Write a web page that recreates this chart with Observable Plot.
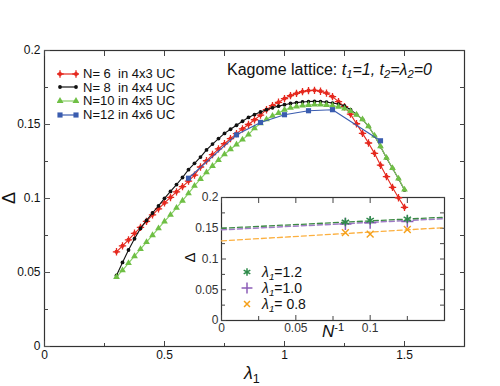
<!DOCTYPE html>
<html><head><meta charset="utf-8">
<script src="https://cdn.jsdelivr.net/npm/d3@7"></script>
<script src="https://cdn.jsdelivr.net/npm/@observablehq/plot@0.6"></script>
<style>
body{margin:0;background:#fff;font-family:"Liberation Sans",Arial,sans-serif;}
#wrap{position:relative;width:500px;height:386px;overflow:hidden;}
#wrap > svg{position:absolute;}
.lbl{position:absolute;white-space:pre;color:#111;line-height:1;}
.sub{font-size:70%;position:relative;top:0.3em;}
.sup{font-size:65%;position:relative;top:-0.55em;}
.leg{position:absolute;white-space:pre;font-size:13px;color:#111;display:flex;align-items:center;}
.leg svg{margin-right:4px;}
</style></head><body><div id="wrap"></div>
<script>
// ---------- data ----------
const lam = [0.3,0.325,0.35,0.375,0.4,0.425,0.45,0.475,0.5,0.525,0.55,0.575,0.6,0.625,0.65,0.675,0.7,0.725,0.75,0.775,0.8,0.825,0.85,0.875,0.9,0.925,0.95,0.975,1.0,1.025,1.05,1.075,1.1,1.125,1.15,1.175,1.2,1.225,1.25,1.275,1.3,1.325,1.35,1.375,1.4,1.425,1.45,1.475,1.5];
const gapN6 = [0.064,0.068,0.072,0.0765,0.0805,0.0845,0.089,0.093,0.097,0.1007,0.1045,0.108,0.1118,0.1158,0.1213,0.1255,0.1297,0.1335,0.137,0.1405,0.1438,0.147,0.150,0.1532,0.1563,0.160,0.1628,0.165,0.1675,0.1695,0.171,0.1722,0.1729,0.1731,0.1725,0.1712,0.1688,0.1655,0.162,0.157,0.1505,0.144,0.1375,0.1305,0.1225,0.1148,0.1075,0.1005,0.094];
const gapN8 = [0.048,0.0568,0.0652,0.0728,0.0798,0.0852,0.0902,0.095,0.1001,0.1048,0.1094,0.1142,0.1195,0.1238,0.128,0.1328,0.1368,0.1405,0.144,0.1468,0.1495,0.1522,0.1548,0.1567,0.1585,0.160,0.1613,0.1624,0.1634,0.1642,0.1648,0.1652,0.1655,0.1656,0.1655,0.1651,0.1645,0.1638,0.1625,0.160,0.1568,0.1535,0.1488,0.1424,0.1351,0.1274,0.1204,0.1134,0.1058];
const gapN10 = [0.047,0.0515,0.0563,0.061,0.0658,0.0705,0.0752,0.0798,0.0845,0.089,0.0937,0.0985,0.1035,0.1085,0.1132,0.1177,0.122,0.126,0.1298,0.1333,0.1365,0.1398,0.1432,0.1475,0.1508,0.1535,0.1558,0.1578,0.160,0.1612,0.1622,0.1628,0.1632,0.1634,0.1634,0.1632,0.1628,0.162,0.1608,0.159,0.1566,0.1535,0.1488,0.1425,0.1352,0.1275,0.1205,0.1135,0.106];
const lamN12 = [0.6,0.8,0.9,1.0,1.1,1.2,1.4];
const gapN12 = [0.1137,0.143,0.1514,0.1566,0.1593,0.160,0.139];
const seriesLabels = ["N= 6  in 4x3 UC","N= 8  in 4x4 UC","N=10 in 4x5 UC","N=12 in 4x6 UC"];
const xMajor = [0,0.5,1,1.5], xMinor = [0.25,0.75,1.25];
const yMajor = [0,0.05,0.1,0.15,0.2], yMinor = [0.025,0.075,0.125,0.175];

// inset
const invN = [1/12, 1/10, 1/8];
const gapL12 = [0.160,0.163,0.165];
const gapL10 = [0.157,0.159,0.161];
const gapL08 = [0.143,0.1405,0.148];
const fitX = [0, 0.15];
const fitL12 = [0.150,0.168];
const fitL10 = [0.1475,0.1655];
const fitL08 = [0.1295,0.151];
const insetLegendVals = ["1.2","1.0"," 0.8"];
const ixMajor = [0,0.05,0.1], ixMinor = [0.025,0.075,0.125];
const iyMajor = [0,0.05,0.1,0.15,0.2], iyMinor = [0.025,0.075,0.125,0.175];

// ---------- styles ----------
const C = {red:"#e5291f", black:"#111111", green:"#6fbf45", greenLine:"#86cf63", blue:"#3a5caf",
           g12:"#2e8b4a", p10:"#8c5db8", o08:"#f5a01a", fg12:"#3c8a44", fp10:"#a07ac6", fo08:"#fcb040"};
const fmt = d => d === 0 ? "0" : String(+d.toFixed(3));
const rows = (xs, ys) => xs.map((x,i)=>({x, y: ys[i]}));

const wrap = document.getElementById("wrap");

// ---------- inset (drawn underneath) ----------
const inset = Plot.plot({
  width: 262, height: 150,
  marginLeft: 31, marginRight: 8, marginTop: 7, marginBottom: 20,
  x: {domain: [0, 0.15]}, y: {domain: [0, 0.2]},
  style: {background: "white", fontFamily: "Liberation Sans, Arial, sans-serif", fontSize: "12px", color: "#333"},
  marks: [
    Plot.frame({stroke: "#333", strokeWidth: 1.2}),
    Plot.axisX(ixMajor, {anchor: "bottom", tickSize: -5, tickPadding: 8, tickFormat: fmt, label: null, stroke:"#444"}),
    Plot.axisX(ixMinor, {anchor: "bottom", tickSize: -4, tickFormat: () => "", label: null, stroke:"#444"}),
    Plot.axisX(ixMajor.concat(ixMinor), {anchor: "top", tickSize: -5, tickFormat: () => "", label: null, stroke:"#444"}),
    Plot.axisY(iyMajor, {anchor: "left", tickSize: -5, tickPadding: 8, tickFormat: fmt, label: null, stroke:"#444"}),
    Plot.axisY(iyMinor, {anchor: "left", tickSize: -4, tickFormat: () => "", label: null, stroke:"#444"}),
    Plot.axisY(iyMajor.concat(iyMinor), {anchor: "right", tickSize: -5, tickFormat: () => "", label: null, stroke:"#444"}),
    Plot.line(rows(fitX, fitL08), {x:"x", y:"y", stroke: C.fo08, strokeWidth: 1.3, strokeDasharray: "5,3"}),
    Plot.line(rows(fitX, fitL10), {x:"x", y:"y", stroke: C.fp10, strokeWidth: 1.5, strokeDasharray: "5,3"}),
    Plot.line(rows(fitX, fitL12), {x:"x", y:"y", stroke: C.fg12, strokeWidth: 1.3, strokeDasharray: "5,3"}),
    Plot.dot(rows(invN, gapL08), {x:"x", y:"y", symbol:"times", stroke: C.o08, r: 3.2, strokeWidth: 1.4}),
    Plot.dot(rows(invN, gapL10), {x:"x", y:"y", symbol:"plus", stroke: C.p10, r: 4, strokeWidth: 1.5}),
    Plot.dot(rows(invN, gapL12), {x:"x", y:"y", symbol:"asterisk", stroke: C.g12, r: 4, strokeWidth: 1.5})
  ]
});
inset.style.left = "190px"; inset.style.top = "190px";
wrap.appendChild(inset);

// ---------- main ----------
const main = Plot.plot({
  width: 500, height: 386,
  marginLeft: 44, marginRight: 36, marginTop: 50, marginBottom: 40,
  x: {domain: [0, 1.75]}, y: {domain: [0, 0.2]},
  style: {background: "transparent", fontFamily: "Liberation Sans, Arial, sans-serif", fontSize: "12px", color: "#111"},
  marks: [
    Plot.frame({stroke: "#333", strokeWidth: 1.2}),
    Plot.axisX(xMajor, {anchor: "bottom", tickSize: -5, tickPadding: 9, tickFormat: fmt, label: null, stroke:"#444"}),
    Plot.axisX(xMinor, {anchor: "bottom", tickSize: -3, tickFormat: () => "", label: null, stroke:"#444"}),
    Plot.axisX(xMajor.concat(xMinor), {anchor: "top", tickSize: -5, tickFormat: () => "", label: null, stroke:"#444"}),
    Plot.axisY(yMajor, {anchor: "left", tickSize: -6, tickPadding: 10, tickFormat: fmt, label: null, stroke:"#555"}),
    Plot.axisY(yMinor, {anchor: "left", tickSize: -4, tickFormat: () => "", label: null, stroke:"#444"}),
    Plot.axisY(yMajor.concat(yMinor), {anchor: "right", tickSize: -5, tickFormat: () => "", label: null, stroke:"#444"}),
    Plot.line(rows(lam, gapN6), {x:"x", y:"y", stroke: C.red, strokeWidth: 1.1}),
    Plot.dot(rows(lam, gapN6), {x:"x", y:"y", symbol:"circle", fill: C.red, r: 2.1}),
    Plot.dot(rows(lam, gapN6), {x:"x", y:"y", symbol:"plus", stroke: C.red, r: 2.5, strokeWidth: 1.3}),
    Plot.line(rows(lam, gapN8), {x:"x", y:"y", stroke: C.black, strokeWidth: 1.1}),
    Plot.dot(rows(lam, gapN8), {x:"x", y:"y", symbol:"circle", fill: C.black, r: 1.9}),
    Plot.line(rows(lam, gapN10), {x:"x", y:"y", stroke: C.greenLine, strokeWidth: 1.1}),
    Plot.dot(rows(lam, gapN10), {x:"x", y:"y", symbol:"triangle", fill: C.green, r: 2.5}),
    Plot.line(rows(lamN12, gapN12), {x:"x", y:"y", stroke: C.blue, strokeWidth: 1.1}),
    Plot.dot(rows(lamN12, gapN12), {x:"x", y:"y", symbol:"square", fill: C.blue, r: 2.9})
  ]
});
main.style.left = "0px"; main.style.top = "0px";
wrap.appendChild(main);

// ---------- text / legends ----------
function addLabel(html, left, top, size, extra) {
  const d = document.createElement("div");
  d.className = "lbl"; d.innerHTML = html;
  d.style.left = left + "px"; d.style.top = top + "px"; d.style.fontSize = size + "px";
  if (extra) Object.assign(d.style, extra);
  wrap.appendChild(d); return d;
}
function swatch(sym, color, line, lineColor, sw) {
  const s = d3.create("svg").attr("width", 22).attr("height", 12);
  if (line) s.append("line").attr("x1", 3).attr("x2", 19).attr("y1", 6).attr("y2", 6).attr("stroke", lineColor).attr("stroke-width", 1.2);
  for (const cx of (line ? [3, 19] : [11])) {
    for (const [sy, f, rr] of sym) {
      s.append("path").attr("transform", `translate(${cx},6)`)
        .attr("d", d3.symbol(sy, Math.PI * rr * rr)())
        .attr("fill", f ? color : "none").attr("stroke", f ? "none" : color).attr("stroke-width", sw || 1.3);
    }
  }
  return s.node();
}
const legSyms = [
  [[d3.symbolCircle, true, 2.1],[d3.symbolPlus, false, 2.5]],
  [[d3.symbolCircle, true, 1.9]],
  [[d3.symbolTriangle, true, 2.6]],
  [[d3.symbolSquare, true, 2.9]]
];
const legCols = [C.red, C.black, C.green, C.blue];
const legLines = [C.red, C.black, C.greenLine, C.blue];
seriesLabels.forEach((t, i) => {
  const d = document.createElement("div");
  d.className = "leg";
  d.style.left = "57px"; d.style.top = (66 + i * 13.7) + "px";
  d.appendChild(swatch(legSyms[i], legCols[i], true, legLines[i]));
  const sp = document.createElement("span"); sp.textContent = t; d.appendChild(sp);
  wrap.appendChild(d);
});

const insetSyms = [[[d3.symbolAsterisk || d3.symbolCross, false, 3.6]], [[d3.symbolPlus, false, 3.6]], [[d3.symbolTimes, false, 2.8]]];
const insetCols = [C.g12, C.p10, C.o08];
insetLegendVals.forEach((v, i) => {
  const d = document.createElement("div");
  d.className = "leg"; d.style.fontSize = "14px";
  d.style.left = "236px"; d.style.top = (264 + i * 16.2) + "px";
  d.appendChild(swatch(insetSyms[i], insetCols[i], false, null, 1.5));
  const sp = document.createElement("span");
  sp.innerHTML = `<i>λ</i><span class="sub"><i>1</i></span>=${v}`;
  d.appendChild(sp);
  wrap.appendChild(d);
});

// title
addLabel(`Kagome lattice: <i>t</i><span class="sub"><i>1</i></span><i>=1, t</i><span class="sub"><i>2</i></span><i>=λ</i><span class="sub"><i>2</i></span><i>=0</i>`, 227, 62, 16);
// axis labels
addLabel(`<i>λ</i><span class="sub">1</span>`, 244, 364, 18);
addLabel(`Δ`, 0, 189, 18, {transform: "rotate(-90deg)", transformOrigin: "50% 50%", width: "18px", textAlign: "center"});
addLabel(`Δ`, 182, 250, 15, {transform: "rotate(-90deg)", transformOrigin: "50% 50%", width: "15px", textAlign: "center"});
addLabel(`<i>N</i><span class="sup">-1</span>`, 322, 323, 17);
</script>
</body></html>
